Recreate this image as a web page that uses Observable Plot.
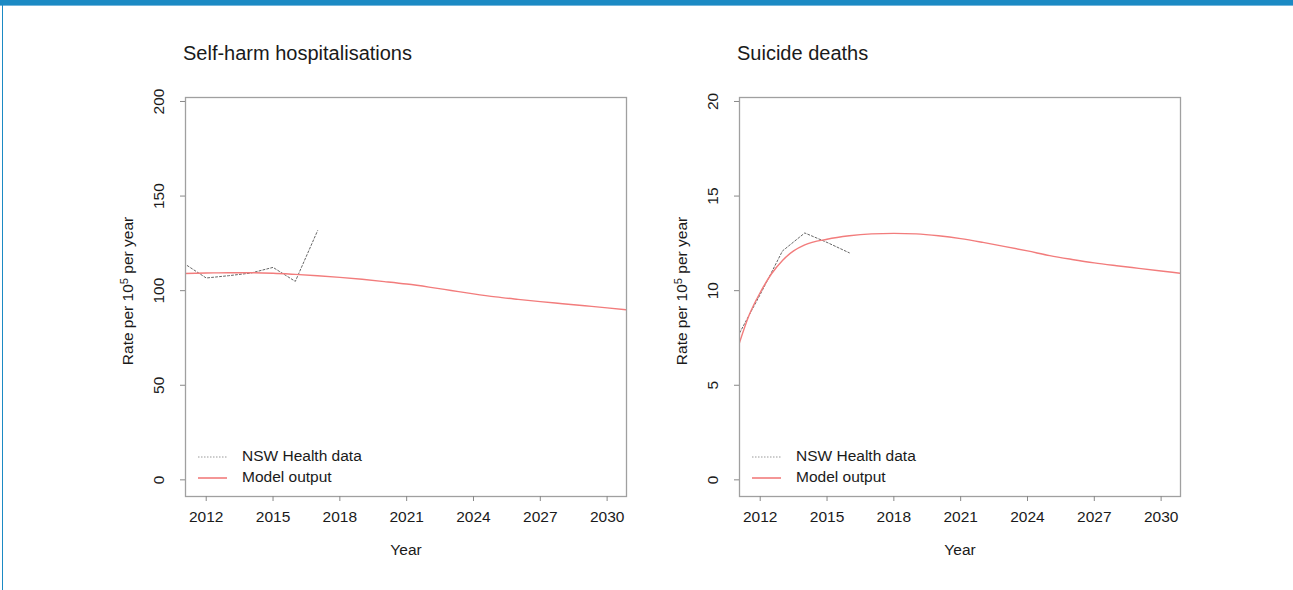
<!DOCTYPE html>
<html><head><meta charset="utf-8">
<script src="https://cdn.jsdelivr.net/npm/d3@7"></script>
<script src="https://cdn.jsdelivr.net/npm/@observablehq/plot@0.6"></script>
<style>
body{margin:0;background:#fff;font-family:"Liberation Sans",Arial,sans-serif;}
#page{position:relative;width:1293px;height:590px;overflow:hidden;background:#fff}
#bar{position:absolute;left:0;top:0;width:1293px;height:5px;background:#1b8ac4;border-bottom:1px solid #74b6dc;z-index:2}
#edge{position:absolute;left:2px;top:0;width:1px;height:590px;background:#1b8ac4;z-index:2}
.panel{position:absolute;top:0;width:646px;height:590px}
.panel svg{position:absolute;left:0;top:0}
.title{position:absolute;top:42px;left:183px;font-size:20px;color:#1a1a1a;white-space:nowrap}
.legend{position:absolute;left:198px;font-size:15.5px;color:#1a1a1a;white-space:nowrap}
.legend .row{position:relative;height:21px;line-height:21px}
.legend svg{position:relative;vertical-align:middle}
.legend span{position:absolute;left:44px;top:0}
</style></head>
<body><div id="page"><div id="bar"></div><div id="edge"></div></div>
<script>
// ---- data ----
const xTicks = [2012, 2015, 2018, 2021, 2024, 2027, 2030];
const xDomain = [2011.07, 2030.87];

const harmTitle = "Self-harm hospitalisations";
const harmYTicks = [0, 50, 100, 150, 200];
const harmYDomain = [-8.8, 202.1];
const harmDataYears = [2011, 2012, 2013, 2014, 2015, 2016, 2017];
const harmDataValues = [114.4, 106.7, 107.9, 109.3, 112.3, 104.9, 131.7];
const harmModelYears = [2011, 2012, 2013, 2014, 2015, 2016, 2017, 2018, 2019, 2020, 2021, 2022, 2023, 2024, 2025, 2026, 2027, 2028, 2029, 2030, 2031];
const harmModelValues = [109.1, 109.3, 109.5, 109.5, 109.2, 108.6, 107.9, 107.0, 106.0, 104.8, 103.5, 101.9, 100.1, 98.3, 96.7, 95.4, 94.2, 93.1, 92.0, 90.9, 89.7];

const suicideTitle = "Suicide deaths";
const suicideYTicks = [0, 5, 10, 15, 20];
const suicideYDomain = [-0.88, 20.21];
const suicideDataYears = [2011, 2012, 2013, 2014, 2015, 2016];
const suicideDataValues = [7.6, 9.8, 12.1, 13.05, 12.55, 12.0];
const suicideModelYears = [2011, 2011.5, 2012, 2012.5, 2013, 2013.5, 2014, 2015, 2016, 2017, 2018, 2019, 2020, 2021, 2022, 2023, 2024, 2025, 2026, 2027, 2028, 2029, 2030, 2031];
const suicideModelValues = [7.0, 8.7, 9.9, 10.88, 11.6, 12.1, 12.42, 12.72, 12.9, 13.0, 13.03, 13.0, 12.9, 12.75, 12.55, 12.33, 12.1, 11.85, 11.65, 11.47, 11.32, 11.18, 11.04, 10.9];

const legendLabels = ["NSW Health data", "Model output"];
const yLabelParts = ["Rate per 10", "5", " per year"];
const xLabel = "Year";

const modelColor = "#f27c7c";
const dataColor = "#666666";
const FS = 15.5;

function panel(left, title, yDomain, yTicks, dYears, dVals, mYears, mVals) {
  const nsw = dYears.map((y, i) => ({year: y, value: dVals[i]}));
  const model = mYears.map((y, i) => ({year: y, value: mVals[i]}));
  const yLabel = yLabelParts.join("");
  const chart = Plot.plot({
    width: 646, height: 590,
    marginLeft: 185, marginRight: 20, marginTop: 97, marginBottom: 94,
    x: {domain: xDomain, axis: null},
    y: {domain: yDomain, axis: null},
    style: {fontFamily: '"Liberation Sans", Arial, sans-serif', fontSize: FS + "px", background: "transparent", color: "#1a1a1a"},
    marks: [
      Plot.line(nsw, {x: "year", y: "value", stroke: dataColor, strokeWidth: 1, strokeDasharray: "2,2", clip: true}),
      Plot.line(model, {x: "year", y: "value", stroke: modelColor, strokeWidth: 1.4, curve: "monotone-x", clip: true}),
      Plot.frame({stroke: "#a0a0a0", strokeWidth: 1.3}),
      Plot.axisX({ticks: xTicks, tickSize: 5, tickPadding: 9, stroke: "#888", fill: "#1a1a1a", fontSize: FS, tickFormat: d => String(d), label: null}),
      Plot.axisY({ticks: yTicks, tickSize: 5, stroke: "#888", tickFormat: () => "", label: null}),
      Plot.text(yTicks, {y: d => d, frameAnchor: "left", dx: -26, rotate: -90, textAnchor: "middle", text: d => String(d), fill: "#1a1a1a", fontSize: FS}),
      Plot.text([yLabel], {frameAnchor: "left", dx: -57, dy: -6, rotate: -90, textAnchor: "middle", text: d => d, fill: "#1a1a1a", fontSize: FS}),
      Plot.text([xLabel], {frameAnchor: "bottom", dy: 58, text: d => d, fill: "#1a1a1a", fontSize: FS})
    ]
  });
  // superscript exponent in the y label
  d3.select(chart).selectAll("text").filter(function () { return this.textContent === yLabel; })
    .each(function () {
      const t = d3.select(this);
      t.text(null);
      t.append("tspan").text(yLabelParts[0]);
      t.append("tspan").attr("dy", "-0.45em").attr("font-size", "0.72em").text(yLabelParts[1]);
      t.append("tspan").attr("dy", "0.32em").text(yLabelParts[2]);
    });
  const div = document.createElement("div");
  div.className = "panel";
  div.style.left = left + "px";
  div.appendChild(chart);
  const t = document.createElement("div");
  t.className = "title"; t.textContent = title;
  div.appendChild(t);
  const lg = document.createElement("div");
  lg.className = "legend";
  lg.style.top = "445px";
  lg.innerHTML =
    `<div class="row"><svg width="30" height="4"><line x1="0" x2="29" y1="2" y2="2" stroke="#999" stroke-width="1" stroke-dasharray="1.5,1.5"/></svg><span>${legendLabels[0]}</span></div>` +
    `<div class="row"><svg width="30" height="4"><line x1="0" x2="29" y1="2" y2="2" stroke="${modelColor}" stroke-width="1.6"/></svg><span>${legendLabels[1]}</span></div>`;
  div.appendChild(lg);
  document.getElementById("page").appendChild(div);
}

panel(0, harmTitle, harmYDomain, harmYTicks, harmDataYears, harmDataValues, harmModelYears, harmModelValues);
panel(554, suicideTitle, suicideYDomain, suicideYTicks, suicideDataYears, suicideDataValues, suicideModelYears, suicideModelValues);
</script>
</body></html>
